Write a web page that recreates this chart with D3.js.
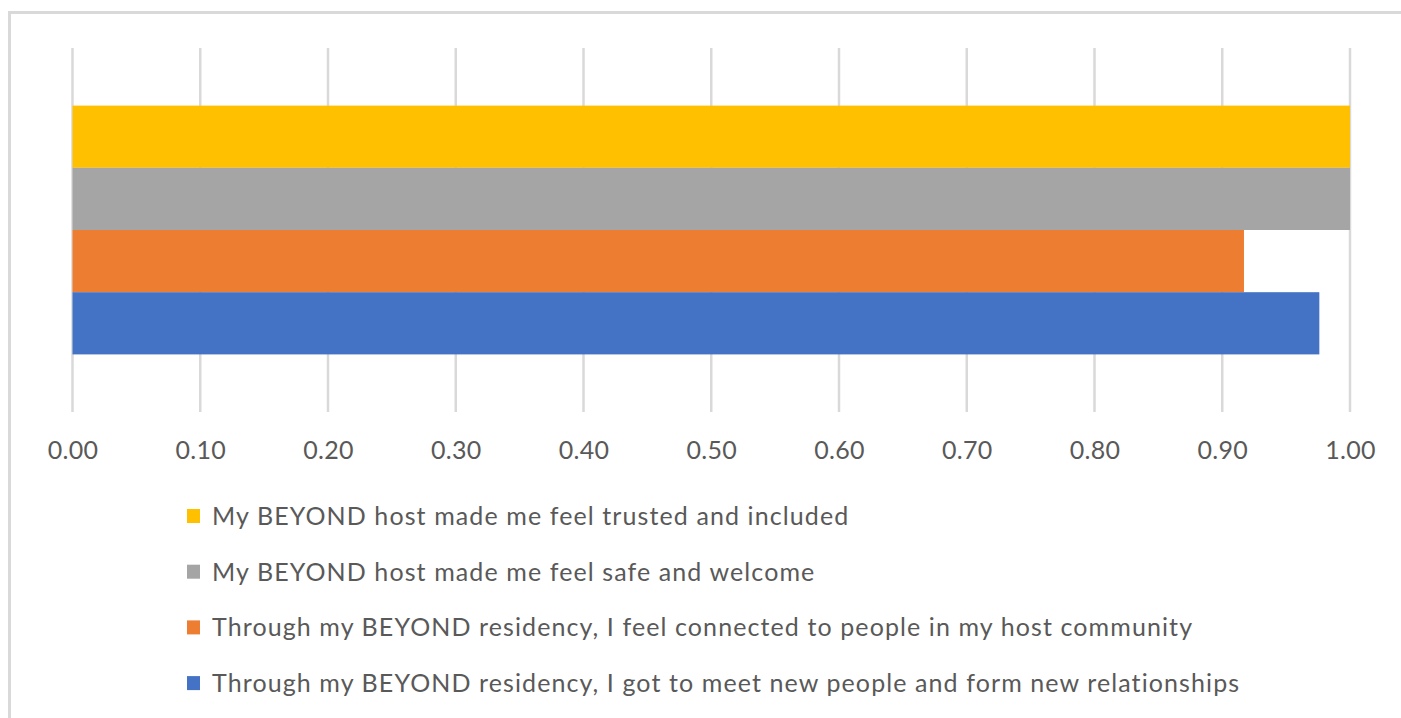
<!DOCTYPE html>
<html>
<head>
<meta charset="utf-8">
<script src="https://cdn.jsdelivr.net/npm/d3@7"></script>
<style>
  html, body { margin: 0; padding: 0; background: #fff; }
  svg { display: block; }
</style>
</head>
<body>
<script>
// ---- data ----
const category = ["Responses"];
const seriesNames = [
  "My BEYOND host made me feel trusted and included",
  "My BEYOND host made me feel safe and welcome",
  "Through my BEYOND residency, I feel connected to people in my host community",
  "Through my BEYOND residency, I got to meet new people and form new relationships"
];
const seriesValues = [1.00, 1.00, 0.917, 0.976];
const seriesColors = ["#FFC000", "#A5A5A5", "#ED7D31", "#4472C4"];
const tickValues = [0, 0.1, 0.2, 0.3, 0.4, 0.5, 0.6, 0.7, 0.8, 0.9, 1.0];

// ---- layout ----
const W = 1401, H = 718;
const plot = { left: 72.5, right: 1350, top: 48, bottom: 412 };

const svg = d3.select("body").append("svg").attr("width", W).attr("height", H);

// chart border (only top/left visible in reference)
svg.append("rect")
  .attr("x", 9.5).attr("y", 12.5)
  .attr("width", W + 20).attr("height", H + 20)
  .attr("fill", "none").attr("stroke", "#D9D9D9").attr("stroke-width", 3);

const x = d3.scaleLinear().domain([0, 1]).range([plot.left, plot.right]);
const yCat = d3.scaleBand().domain(category).range([plot.top, plot.bottom]).paddingOuter(0.2315).paddingInner(0);
const ySer = d3.scaleBand().domain(seriesNames).range([yCat(category[0]), yCat(category[0]) + yCat.bandwidth()]).padding(0);

// gridlines
svg.append("g")
  .selectAll("line").data(tickValues).join("line")
  .attr("x1", d => x(d)).attr("x2", d => x(d))
  .attr("y1", plot.top).attr("y2", plot.bottom)
  .attr("stroke", "#D9D9D9").attr("stroke-width", 2.5);

// bars
svg.append("g")
  .selectAll("rect").data(seriesNames).join("rect")
  .attr("x", x(0))
  .attr("y", d => ySer(d))
  .attr("width", (d, i) => x(seriesValues[i]) - x(0))
  .attr("height", ySer.bandwidth())
  .attr("fill", (d, i) => seriesColors[i]);

// axis labels
const axis = d3.axisBottom(x).tickValues(tickValues).tickFormat(d3.format(".2f")).tickSize(0).tickPadding(0);
const ag = svg.append("g").attr("transform", `translate(0, 459)`).call(axis);
ag.select(".domain").remove();
ag.selectAll("text")
  .attr("dy", 0)
  .attr("fill", "#595959")
  .style("font-family", "Lato, 'Open Sans', sans-serif")
  .style("font-size", "25px")
  .style("letter-spacing", "0.3px");

// legend
const legendX = 187, legendY0 = 516, legendStep = 55.7;
const lg = svg.append("g");
const items = lg.selectAll("g").data(seriesNames).join("g")
  .attr("transform", (d, i) => `translate(${legendX}, ${legendY0 + i * legendStep})`);
items.append("rect")
  .attr("x", 0).attr("y", -7).attr("width", 13).attr("height", 14)
  .attr("fill", (d, i) => seriesColors[i]);
items.append("text")
  .attr("x", 25).attr("y", 0).attr("dy", "0.36em")
  .attr("fill", "#595959")
  .style("font-family", "Lato, 'Open Sans', sans-serif")
  .style("font-size", "25px")
  .style("letter-spacing", "1.1px")
  .text(d => d);
</script>
</body>
</html>
